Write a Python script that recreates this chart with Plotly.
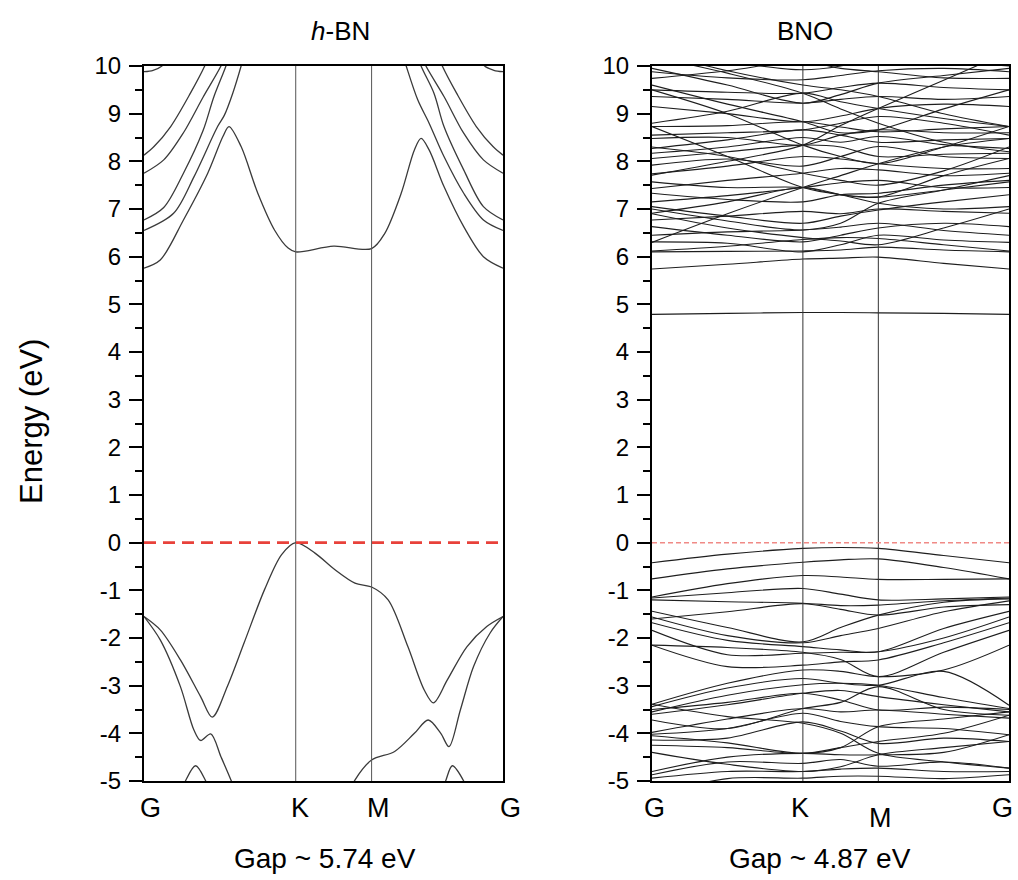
import plotly.graph_objects as go

# ---------------- data ----------------
K_LABELS = ["G", "K", "M", "G"]
K_POS = [0.0, 1.0, 1.5, 2.366]
Y_TICKS = [-5, -4, -3, -2, -1, 0, 1, 2, 3, 4, 5, 6, 7, 8, 9, 10]
Y_TICK_TEXT = ["-5", "-4", "-3", "-2", "-1", "0", "1", "2", "3", "4", "5", "6", "7", "8", "9", "10"]
PANEL_TITLES = ["<i>h</i>-BN", "BNO"]
GAP_TEXT = ["Gap ~ 5.74 eV", "Gap ~ 4.87 eV"]

# h-BN bands: (k, E) pairs
hbn_c1_k = [0, 0.107, 0.26, 0.42, 0.52, 0.56, 0.64, 0.75, 0.86, 0.95, 1.0, 1.25, 1.5,
            1.587, 1.695, 1.782, 1.826, 1.879, 1.977, 2.107, 2.237, 2.366]
hbn_c1_e = [5.76, 5.93, 6.77, 7.75, 8.52, 8.73, 8.31, 7.33, 6.56, 6.18, 6.10, 6.22, 6.17,
            6.49, 7.33, 8.24, 8.48, 8.24, 7.47, 6.63, 6.00, 5.76]
hbn_c2l_k = [0, 0.195, 0.33, 0.485, 0.53, 0.585, 0.64, 0.69]
hbn_c2l_e = [6.55, 6.91, 7.68, 8.73, 8.97, 9.43, 10.0, 10.6]
hbn_c2r_k = [1.67, 1.728, 1.804, 1.879, 1.977, 2.107, 2.237, 2.366]
hbn_c2r_e = [10.6, 10.0, 9.29, 8.80, 8.10, 7.33, 6.77, 6.55]
hbn_c3l_k = [0, 0.13, 0.26, 0.39, 0.46, 0.54, 0.59]
hbn_c3l_e = [6.77, 7.03, 7.75, 8.65, 9.35, 10.0, 10.5]
hbn_c3r_k = [1.77, 1.826, 1.911, 1.977, 2.107, 2.237, 2.366]
hbn_c3r_e = [10.5, 10.0, 9.43, 8.73, 7.82, 7.05, 6.77]
hbn_c4l_k = [0, 0.13, 0.26, 0.39, 0.507, 0.56]
hbn_c4l_e = [7.75, 8.03, 8.60, 9.35, 10.0, 10.4]
hbn_c4r_k = [1.80, 1.858, 1.977, 2.107, 2.237, 2.366]
hbn_c4r_e = [10.4, 10.0, 9.36, 8.59, 8.03, 7.75]
hbn_c5l_k = [0, 0.066, 0.176, 0.306, 0.40, 0.45]
hbn_c5l_e = [8.13, 8.31, 8.73, 9.43, 10.0, 10.4]
hbn_c5r_k = [1.916, 1.966, 2.06, 2.19, 2.30, 2.366]
hbn_c5r_e = [10.4, 10.0, 9.43, 8.73, 8.31, 8.13]
hbn_c6l_k = [0, 0.06, 0.118, 0.15]
hbn_c6l_e = [9.88, 9.91, 10.0, 10.15]
hbn_c6r_k = [2.216, 2.245, 2.306, 2.366]
hbn_c6r_e = [10.15, 10.0, 9.91, 9.88]

hbn_v1_k = [0, 0.107, 0.24, 0.373, 0.45, 0.55, 0.66, 0.795, 0.907, 1.0, 1.127, 1.259, 1.39, 1.5,
            1.609, 1.739, 1.847, 1.908, 1.999, 2.129, 2.259, 2.366]
hbn_v1_e = [-1.55, -1.83, -2.46, -3.23, -3.66, -3.01, -2.10, -0.98, -0.25, 0.0, -0.22, -0.57, -0.85, -0.93,
            -1.20, -2.18, -3.09, -3.36, -2.88, -2.18, -1.76, -1.55]
hbn_v2l_k = [0, 0.107, 0.24, 0.329, 0.373, 0.44, 0.507, 0.573, 0.63]
hbn_v2l_e = [-1.55, -2.04, -3.02, -3.93, -4.15, -4.01, -4.49, -4.98, -5.45]
hbn_v2r_k = [1.33, 1.39, 1.5, 1.652, 1.782, 1.873, 1.956, 2.01, 2.085, 2.172, 2.28, 2.366]
hbn_v2r_e = [-5.40, -4.98, -4.56, -4.38, -4.00, -3.72, -4.00, -4.28, -3.51, -2.60, -1.90, -1.55]
hbn_v3l_k = [0.22, 0.273, 0.34, 0.407, 0.46]
hbn_v3l_e = [-5.45, -5.0, -4.68, -5.0, -5.45]
hbn_v3r_k = [1.94, 1.988, 2.032, 2.107, 2.16]
hbn_v3r_e = [-5.45, -5.0, -4.68, -5.0, -5.45]

# BNO bands sampled at G, mid G-K, K, mid K-M, M, mid M-G, G
BNO_K = [0.0, 0.5, 1.0, 1.25, 1.5, 1.933, 2.366]
BNO_FLAT = [4.79, 4.81, 4.83, 4.83, 4.82, 4.81, 4.79]
BNO_CB = [
    [5.74, 5.84, 5.95, 5.97, 5.99, 5.86, 5.74],
    [6.10, 6.11, 6.12, 6.14, 6.20, 6.14, 6.10],
    [6.12, 6.22, 6.36, 6.40, 6.38, 6.25, 6.12],
    [6.31, 6.28, 6.10, 6.25, 6.45, 6.35, 6.30],
    [6.45, 6.52, 6.56, 6.62, 6.70, 6.55, 6.45],
    [6.63, 6.45, 6.31, 6.45, 6.60, 6.70, 6.63],
    [6.77, 6.85, 6.95, 6.90, 7.00, 6.95, 6.91],
    [6.91, 7.15, 7.45, 7.30, 7.12, 7.00, 7.05],
    [7.05, 6.85, 6.70, 6.85, 6.98, 7.15, 7.30],
    [7.15, 7.28, 7.45, 7.55, 7.60, 7.45, 7.45],
    [7.33, 7.20, 7.15, 7.30, 7.33, 7.50, 7.60],
    [7.43, 7.60, 7.75, 7.85, 7.82, 7.70, 7.75],
    [7.57, 7.45, 7.45, 7.30, 7.25, 7.40, 7.57],
    [7.71, 8.00, 8.34, 8.75, 9.11, 9.70, 10.30],
    [7.74, 7.90, 8.10, 8.05, 7.95, 7.85, 7.85],
    [7.92, 8.05, 7.90, 8.10, 8.31, 8.10, 8.06],
    [8.06, 8.20, 8.34, 8.30, 8.10, 8.15, 8.17],
    [8.17, 8.30, 8.50, 8.40, 8.52, 8.35, 8.27],
    [8.27, 8.45, 8.66, 8.55, 8.40, 8.45, 8.48],
    [8.48, 8.50, 8.34, 8.55, 8.66, 8.60, 8.60],
    [8.73, 8.10, 7.45, 7.30, 7.25, 7.70, 8.06],
    [8.73, 8.75, 8.83, 8.72, 8.62, 8.68, 8.73],
    [8.80, 9.05, 9.43, 9.25, 9.11, 8.90, 8.73],
    [9.15, 9.00, 8.83, 8.95, 9.11, 9.20, 9.15],
    [9.36, 9.30, 9.22, 9.30, 9.36, 9.30, 9.36],
    [9.50, 9.45, 9.43, 9.55, 9.64, 9.55, 9.50],
    [9.74, 9.90, 10.10, 9.95, 9.88, 9.75, 9.74],
    [9.88, 9.75, 9.71, 9.80, 9.90, 9.95, 9.88],
    [10.20, 9.85, 9.43, 9.10, 8.80, 8.40, 8.20],
    [10.40, 10.10, 9.92, 10.00, 10.20, 10.10, 10.00],
    [9.60, 9.20, 8.83, 8.60, 8.66, 9.10, 9.50],
    [7.00, 6.75, 6.56, 6.70, 7.12, 7.40, 7.70],
    [9.50, 9.00, 8.34, 8.10, 7.95, 8.30, 8.73],
    [6.30, 6.90, 7.45, 7.70, 7.95, 8.30, 8.48],
    [9.95, 9.60, 9.22, 9.40, 9.64, 9.80, 9.95],
    [8.55, 8.60, 8.66, 8.80, 8.94, 8.80, 8.55],
    [10.30, 9.90, 9.60, 9.50, 9.36, 9.00, 8.73],
    [6.90, 6.60, 6.40, 6.33, 6.25, 6.60, 7.00],
    [8.30, 8.10, 7.75, 7.60, 7.50, 7.80, 8.30],
]
BNO_VB = [
    [-0.42, -0.24, -0.12, -0.10, -0.12, -0.27, -0.42],
    [-0.76, -0.55, -0.41, -0.36, -0.34, -0.52, -0.76],
    [-1.14, -0.86, -0.69, -0.72, -0.77, -0.77, -0.76],
    [-1.16, -1.05, -0.96, -1.08, -1.20, -1.18, -1.14],
    [-1.20, -1.24, -1.27, -1.32, -1.31, -1.22, -1.16],
    [-1.44, -1.78, -2.08, -1.78, -1.52, -1.25, -1.18],
    [-1.56, -1.95, -2.10, -1.95, -1.80, -1.45, -1.22],
    [-1.68, -2.05, -2.18, -2.25, -2.29, -1.80, -1.44],
    [-1.84, -2.35, -2.32, -2.30, -2.29, -2.00, -1.56],
    [-2.15, -2.60, -2.57, -2.50, -2.46, -2.10, -1.68],
    [-2.15, -2.20, -2.30, -2.45, -2.81, -2.30, -1.84],
    [-3.39, -2.95, -2.67, -2.70, -2.81, -2.67, -2.15],
    [-3.44, -3.05, -2.85, -2.95, -2.99, -2.70, -3.41],
    [-3.55, -3.20, -2.98, -2.95, -2.99, -3.25, -3.48],
    [-3.60, -3.40, -3.16, -3.10, -3.23, -3.40, -3.55],
    [-3.72, -3.90, -3.48, -3.35, -3.02, -3.50, -3.62],
    [-3.98, -3.70, -3.48, -3.55, -3.51, -3.60, -3.68],
    [-4.02, -3.90, -3.58, -3.75, -3.86, -3.90, -4.03],
    [-4.14, -4.10, -3.76, -3.95, -4.21, -4.10, -4.17],
    [-4.25, -4.30, -4.42, -4.30, -4.17, -4.00, -3.62],
    [-4.80, -4.50, -4.42, -4.45, -4.45, -4.40, -4.03],
    [-4.87, -4.60, -4.63, -4.55, -4.69, -4.60, -4.73],
    [-4.94, -4.80, -4.80, -4.75, -4.73, -4.80, -4.80],
    [-5.30, -4.95, -4.94, -4.90, -4.90, -4.95, -4.87],
    [-3.39, -3.65, -3.79, -4.00, -4.42, -4.60, -4.73],
    [-1.60, -1.45, -1.28, -1.40, -1.52, -1.35, -1.30],
    [-3.50, -3.35, -3.16, -3.30, -3.51, -3.45, -3.50],
    [-4.05, -4.20, -4.42, -4.30, -3.86, -3.70, -3.55],
    [-4.40, -4.65, -4.80, -4.70, -4.45, -4.30, -4.17],
]

# ---------------- figure ----------------
FONT = "Liberation Sans, Arial, Helvetica, sans-serif"
fig = go.Figure()

hbn_segments = [
    (hbn_c1_k, hbn_c1_e), (hbn_c2l_k, hbn_c2l_e), (hbn_c2r_k, hbn_c2r_e),
    (hbn_c3l_k, hbn_c3l_e), (hbn_c3r_k, hbn_c3r_e), (hbn_c4l_k, hbn_c4l_e),
    (hbn_c4r_k, hbn_c4r_e), (hbn_c5l_k, hbn_c5l_e), (hbn_c5r_k, hbn_c5r_e),
    (hbn_c6l_k, hbn_c6l_e), (hbn_c6r_k, hbn_c6r_e),
    (hbn_v1_k, hbn_v1_e), (hbn_v2l_k, hbn_v2l_e), (hbn_v2r_k, hbn_v2r_e),
    (hbn_v3l_k, hbn_v3l_e), (hbn_v3r_k, hbn_v3r_e),
]
for kk, ee in hbn_segments:
    fig.add_trace(go.Scatter(x=kk, y=ee, mode="lines", xaxis="x", yaxis="y",
                             line=dict(color="#3a3a3a", width=1.3, shape="spline", smoothing=0.9),
                             hoverinfo="skip", showlegend=False))

for band in BNO_CB + BNO_VB + [BNO_FLAT]:
    fig.add_trace(go.Scatter(x=BNO_K, y=band, mode="lines", xaxis="x2", yaxis="y2",
                             line=dict(color="#1e1e1e", width=1.1, shape="spline", smoothing=0.9),
                             hoverinfo="skip", showlegend=False))

# high-symmetry verticals and Fermi level
for xa, ya, col in (("x", "y", "#555555"), ("x2", "y2", "#333333")):
    for kv in K_POS[1:3]:
        fig.add_trace(go.Scatter(x=[kv, kv], y=[Y_TICKS[0], Y_TICKS[-1]], mode="lines",
                                 xaxis=xa, yaxis=ya, line=dict(color=col, width=1),
                                 hoverinfo="skip", showlegend=False))
fig.add_trace(go.Scatter(x=[K_POS[0], K_POS[-1]], y=[0, 0], mode="lines", xaxis="x", yaxis="y",
                         line=dict(color="#e8413a", width=2.6, dash="12px,7px"),
                         hoverinfo="skip", showlegend=False))
fig.add_trace(go.Scatter(x=[K_POS[0], K_POS[-1]], y=[0, 0], mode="lines", xaxis="x2", yaxis="y2",
                         line=dict(color="#f08a86", width=1.5, dash="5px,3px"),
                         hoverinfo="skip", showlegend=False))

W, H = 1018, 880
dom_l = [144 / W, 503 / W]
dom_r = [652 / W, 1009 / W]
dom_y = [(H - 781) / H, (H - 66) / H]

xax = dict(range=[K_POS[0], K_POS[-1]], showticklabels=False, ticks="", showgrid=False,
           zeroline=False, showline=True, mirror=True, linecolor="black", linewidth=2,
           automargin=False)
yax = dict(range=[Y_TICKS[0], Y_TICKS[-1]], tickvals=Y_TICKS, ticktext=Y_TICK_TEXT,
           ticks="outside", ticklen=13, tickwidth=1.6, tickcolor="black",
           minor=dict(dtick=0.5, tick0=0, ticks="outside", ticklen=7, tickwidth=1.6, tickcolor="black"),
           showgrid=False, zeroline=False, showline=True, mirror=True, linecolor="black",
           linewidth=2, tickfont=dict(family=FONT, size=24, color="black"), ticklabelstandoff=3,
           automargin=False)

fig.update_layout(
    width=W, height=H, paper_bgcolor="white", plot_bgcolor="white",
    margin=dict(l=0, r=0, t=0, b=0, pad=0, autoexpand=False), showlegend=False,
    xaxis=dict(domain=dom_l, anchor="y", **xax),
    yaxis=dict(domain=dom_y, anchor="x", **yax),
    xaxis2=dict(domain=dom_r, anchor="y2", **xax),
    yaxis2=dict(domain=dom_y, anchor="x2", **yax),
)

ann = []
# k-point labels
shifts_l = [6, 4, 7, 7]
shifts_r = [2, -3, 2, -7]
for lab, kv, sl, sr in zip(K_LABELS, K_POS, shifts_l, shifts_r):
    ann.append(dict(text=lab, x=kv, xref="x", y=(H - 808) / H, yref="paper", xshift=sl,
                    xanchor="center", yanchor="middle", showarrow=False,
                    font=dict(family=FONT, size=27, color="black")))
    yy = (H - 818) / H if lab == "M" else (H - 808) / H
    ann.append(dict(text=lab, x=kv, xref="x2", y=yy, yref="paper", xshift=sr,
                    xanchor="center", yanchor="middle", showarrow=False,
                    font=dict(family=FONT, size=27, color="black")))
# titles
ann.append(dict(text=PANEL_TITLES[0], x=340 / W, y=(H - 31) / H, xref="paper", yref="paper",
                xanchor="center", yanchor="middle", showarrow=False,
                font=dict(family=FONT, size=26, color="black")))
ann.append(dict(text=PANEL_TITLES[1], x=805 / W, y=(H - 31) / H, xref="paper", yref="paper",
                xanchor="center", yanchor="middle", showarrow=False,
                font=dict(family=FONT, size=26, color="black")))
# gap notes
ann.append(dict(text=GAP_TEXT[0], x=325 / W, y=(H - 858) / H, xref="paper", yref="paper",
                xanchor="center", yanchor="middle", showarrow=False,
                font=dict(family=FONT, size=28, color="black")))
ann.append(dict(text=GAP_TEXT[1], x=820 / W, y=(H - 858) / H, xref="paper", yref="paper",
                xanchor="center", yanchor="middle", showarrow=False,
                font=dict(family=FONT, size=28, color="black")))
# y title
ann.append(dict(text="Energy (eV)", x=32 / W, y=(H - 422) / H, xref="paper", yref="paper",
                xanchor="center", yanchor="middle",
                textangle=-90, showarrow=False, font=dict(family=FONT, size=31, color="black")))
fig.update_layout(annotations=ann)

fig.write_html("out.html", config={"displayModeBar": False},
               post_script="document.body.style.margin='0px';document.body.style.overflow='hidden';")
